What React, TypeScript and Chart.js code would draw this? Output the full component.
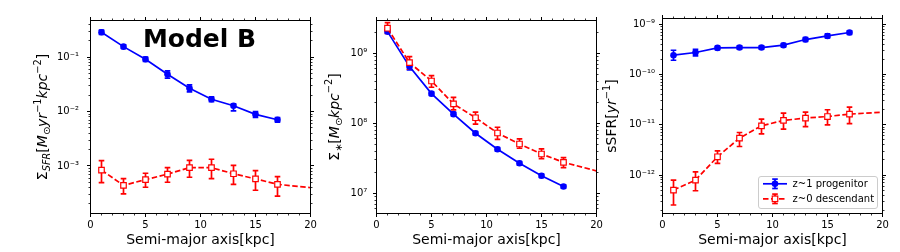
import React, { useEffect, useRef } from 'react';
import { Chart, registerables } from 'chart.js';

Chart.register(...registerables);

// ---------------- data ----------------
const radii = [1, 3, 5, 7, 9, 11, 13, 15, 17];
const tailRadius = 21; // descendant curve continues past the right edge
const xTicks = [0, 5, 10, 15, 20];

const sfrProg = [0.288, 0.157, 0.092, 0.0488, 0.027, 0.0169, 0.0128, 0.0089, 0.0071];
const sfrProgLo = [0.264, 0.145, 0.084, 0.0412, 0.0231, 0.0153, 0.01035, 0.0078, 0.0064];
const sfrProgHi = [0.317, 0.17, 0.101, 0.0561, 0.031, 0.0187, 0.0139, 0.01005, 0.0078];
const sfrDesc = [8.4e-4, 4.4e-4, 5.6e-4, 7.1e-4, 9.3e-4, 9.3e-4, 7.2e-4, 5.8e-4, 4.6e-4];
const sfrDescLo = [4.95e-4, 3.06e-4, 4.06e-4, 5.02e-4, 6.2e-4, 5.85e-4, 4.6e-4, 3.58e-4, 2.78e-4];
const sfrDescHi = [1.25e-3, 5.85e-4, 7.35e-4, 9.3e-4, 1.27e-3, 1.33e-3, 1.03e-3, 8.2e-4, 6.37e-4];
const sfrDescTail = 3.8e-4;
const sfrTicks = [1e-3, 1e-2, 1e-1];

const massProg = [2.04e9, 6.45e8, 2.65e8, 1.35e8, 7.2e7, 4.25e7, 2.68e7, 1.78e7, 1.25e7];
const massProgLo = [1.92e9, 5.8e8, 2.5e8, 1.27e8, 6.8e7, 4.0e7, 2.53e7, 1.68e7, 1.18e7];
const massProgHi = [2.16e9, 7.2e8, 2.8e8, 1.43e8, 7.6e7, 4.5e7, 2.84e7, 1.88e7, 1.32e7];
const massDesc = [2.28e9, 7.35e8, 4.02e8, 1.89e8, 1.2e8, 7.26e7, 5.06e7, 3.64e7, 2.77e7];
const massDescLo = [1.93e9, 5.91e8, 3.27e8, 1.55e8, 9.7e7, 5.9e7, 4.4e7, 3.12e7, 2.32e7];
const massDescHi = [2.74e9, 8.94e8, 4.79e8, 2.35e8, 1.44e8, 8.77e7, 5.97e7, 4.3e7, 3.23e7];
const massDescTail = 1.9e7;
const massTicks = [1e7, 1e8, 1e9];

const ssfrProg = [2.42e-10, 2.74e-10, 3.38e-10, 3.44e-10, 3.44e-10, 3.83e-10, 4.96e-10, 5.85e-10, 6.84e-10];
const ssfrProgLo = [1.92e-10, 2.35e-10, 3.12e-10, 3.18e-10, 3.2e-10, 3.55e-10, 4.55e-10, 5.35e-10, 6.3e-10];
const ssfrProgHi = [3.04e-10, 3.15e-10, 3.65e-10, 3.7e-10, 3.7e-10, 4.13e-10, 5.4e-10, 6.4e-10, 7.4e-10];
const ssfrDesc = [5.03e-13, 7.96e-13, 2.31e-12, 5.44e-12, 9.55e-12, 1.22e-11, 1.36e-11, 1.46e-11, 1.63e-11];
const ssfrDescLo = [2.54e-13, 4.88e-13, 1.71e-12, 3.7e-12, 6.6e-12, 8.2e-12, 9.2e-12, 1.0e-11, 1.05e-11];
const ssfrDescHi = [7.96e-13, 1.16e-12, 3.04e-12, 7.03e-12, 1.3e-11, 1.71e-11, 1.79e-11, 1.99e-11, 2.25e-11];
const ssfrDescTail = 1.84e-11;
const ssfrTicks = [1e-12, 1e-11, 1e-10, 1e-9];

const legendLabels = ['z~1 progenitor', 'z~0 descendant'];
const xTitle = 'Semi-major axis[kpc]';
const panelTitle = 'Model B';

type Seg = { t: string; it?: boolean; s?: 'sub' | 'sup' };
const sfrLabel: Seg[] = [
  { t: 'Σ' }, { t: 'SFR', it: true, s: 'sub' }, { t: '[' }, { t: 'M', it: true }, { t: '⊙', s: 'sub' },
  { t: 'yr', it: true }, { t: '−1', s: 'sup' }, { t: 'kpc', it: true }, { t: '−2', s: 'sup' }, { t: ']' },
];
const massLabel: Seg[] = [
  { t: 'Σ' }, { t: '∗', s: 'sub' }, { t: '[' }, { t: 'M', it: true }, { t: '⊙', s: 'sub' },
  { t: 'kpc', it: true }, { t: '−2', s: 'sup' }, { t: ']' },
];
const ssfrLabel: Seg[] = [{ t: 'sSFR' }, { t: '[' }, { t: 'yr', it: true }, { t: '−1', s: 'sup' }, { t: ']' }];

// ---------------- styling / layout ----------------
const W = 900;
const H = 252;
const FAMILY = '"DejaVu Sans", sans-serif';
const BLUE = '#0000ff';
const RED = '#ff0000';

type Area = { left: number; right: number; top: number; bottom: number };
type Panel = {
  area: Area;
  yMin: number;
  yMax: number;
  yTicks: number[];
  yPad: number;
  yLabel: Seg[];
  yLabelX: number;
  prog: number[];
  progLo: number[];
  progHi: number[];
  desc: number[];
  descLo: number[];
  descHi: number[];
  descTail: number;
  title?: boolean;
  legend?: boolean;
};

const panels: Panel[] = [
  {
    area: { left: 90.5, right: 310.5, top: 20.5, bottom: 213.5 },
    yMin: 1.336e-4, yMax: 0.475, yTicks: sfrTicks, yPad: 11.5, yLabel: sfrLabel, yLabelX: 46.8,
    prog: sfrProg, progLo: sfrProgLo, progHi: sfrProgHi,
    desc: sfrDesc, descLo: sfrDescLo, descHi: sfrDescHi, descTail: sfrDescTail, title: true,
  },
  {
    area: { left: 376.5, right: 596.5, top: 20.5, bottom: 213.5 },
    yMin: 5.14e6, yMax: 2.94e9, yTicks: massTicks, yPad: 9.2, yLabel: massLabel, yLabelX: 338.5,
    prog: massProg, progLo: massProgLo, progHi: massProgHi,
    desc: massDesc, descLo: massDescLo, descHi: massDescHi, descTail: massDescTail,
  },
  {
    area: { left: 662.5, right: 882.5, top: 18.5, bottom: 213.5 },
    yMin: 1.72e-13, yMax: 1.3e-9, yTicks: ssfrTicks, yPad: 7.5, yLabel: ssfrLabel, yLabelX: 615.8,
    prog: ssfrProg, progLo: ssfrProgLo, progHi: ssfrProgHi,
    desc: ssfrDesc, descLo: ssfrDescLo, descHi: ssfrDescHi, descTail: ssfrDescTail, legend: true,
  },
];

const SUP: Record<string, string> = {
  '-': '⁻', '0': '⁰', '1': '¹', '2': '²', '3': '³', '4': '⁴', '5': '⁵', '6': '⁶', '7': '⁷', '8': '⁸', '9': '⁹',
};
function powLabel(v: number): string {
  const e = Math.round(Math.log10(v));
  if (Math.abs(Math.log10(v) - e) > 1e-6) return '';
  return '10' + String(e).split('').map((c) => SUP[c] || c).join('');
}

function segFont(seg: Seg, size: number) {
  const sz = seg.s ? size * 0.7 : size;
  return `${seg.it ? 'italic ' : ''}${sz}px ${FAMILY}`;
}

function drawRichVertical(ctx: CanvasRenderingContext2D, segs: Seg[], baseX: number, centerY: number, size: number) {
  ctx.save();
  const widths = segs.map((sg) => {
    ctx.font = segFont(sg, size);
    return ctx.measureText(sg.t).width;
  });
  const total = widths.reduce((a, b) => a + b, 0);
  ctx.translate(baseX, centerY);
  ctx.rotate(-Math.PI / 2);
  ctx.fillStyle = '#000';
  ctx.textAlign = 'left';
  ctx.textBaseline = 'alphabetic';
  let x = -total / 2;
  segs.forEach((sg, i) => {
    ctx.font = segFont(sg, size);
    const dy = sg.s === 'sub' ? size * 0.22 : sg.s === 'sup' ? -size * 0.45 : 0;
    ctx.fillText(sg.t, x, dy);
    x += widths[i];
  });
  ctx.restore();
}

function seg(ctx: CanvasRenderingContext2D, x0: number, y0: number, x1: number, y1: number) {
  ctx.beginPath();
  ctx.moveTo(x0, y0);
  ctx.lineTo(x1, y1);
  ctx.stroke();
}

function crisp(v: number) {
  return Math.round(v - 0.5) + 0.5;
}

function drawErrBar(ctx: CanvasRenderingContext2D, x: number, yTop: number, yBot: number, color: string) {
  const cap = 2.8;
  ctx.strokeStyle = color;
  ctx.lineWidth = 1.7;
  ctx.setLineDash([]);
  seg(ctx, x, yTop, x, yBot);
  seg(ctx, x - cap, yTop, x + cap, yTop);
  seg(ctx, x - cap, yBot, x + cap, yBot);
}

function drawLegend(ctx: CanvasRenderingContext2D, area: Area) {
  const bx = 758.5;
  const by = 176.5;
  const bw = area.right - 5 - bx;
  const bh = area.bottom - 5 - by;
  ctx.save();
  ctx.beginPath();
  const r = 2.5;
  ctx.moveTo(bx + r, by);
  ctx.arcTo(bx + bw, by, bx + bw, by + bh, r);
  ctx.arcTo(bx + bw, by + bh, bx, by + bh, r);
  ctx.arcTo(bx, by + bh, bx, by, r);
  ctx.arcTo(bx, by, bx + bw, by, r);
  ctx.closePath();
  ctx.fillStyle = 'rgba(255,255,255,0.8)';
  ctx.fill();
  ctx.strokeStyle = '#cccccc';
  ctx.lineWidth = 1;
  ctx.stroke();

  const hx0 = 763;
  const hx1 = 787;
  const mx = 775;
  const rows = [183.8, 198.8];
  // progenitor
  let y = rows[0];
  ctx.strokeStyle = BLUE;
  ctx.lineWidth = 1.7;
  seg(ctx, hx0, y, hx1, y);
  drawErrBar(ctx, mx, y - 4.7, y + 4.7, BLUE);
  ctx.fillStyle = BLUE;
  ctx.beginPath();
  ctx.arc(mx, y, 3.3, 0, Math.PI * 2);
  ctx.fill();
  // descendant
  y = rows[1];
  ctx.strokeStyle = RED;
  ctx.lineWidth = 1.7;
  ctx.setLineDash([5.5, 2.5]);
  seg(ctx, hx0, y, hx1, y);
  ctx.setLineDash([]);
  drawErrBar(ctx, mx, y - 4.7, y + 4.7, RED);
  ctx.fillStyle = '#fff';
  ctx.strokeStyle = RED;
  ctx.lineWidth = 1.2;
  ctx.fillRect(mx - 2.75, y - 2.75, 5.5, 5.5);
  ctx.strokeRect(mx - 2.75, y - 2.75, 5.5, 5.5);

  ctx.fillStyle = '#000';
  ctx.font = `10px ${FAMILY}`;
  ctx.textAlign = 'left';
  ctx.textBaseline = 'alphabetic';
  ctx.fillText(legendLabels[0], 792.5, rows[0] + 3.5);
  ctx.fillText(legendLabels[1], 792.5, rows[1] + 3.5);
  ctx.restore();
}

function buildChart(canvas: HTMLCanvasElement, p: Panel) {
  const a = p.area;
  const progPts = radii.map((r, i) => ({ x: r, y: p.prog[i] }));
  const descPts = radii.map((r, i) => ({ x: r, y: p.desc[i] })).concat([{ x: tailRadius, y: p.descTail }]);
  const descRadius = radii.map(() => 3.9).concat([0]);

  const errPlugin = {
    id: 'errbars',
    beforeDatasetsDraw(chart: any) {
      const { ctx, scales } = chart;
      const xs = scales.x;
      const ys = scales.y;
      ctx.save();
      ctx.beginPath();
      ctx.rect(a.left, a.top, a.right - a.left, a.bottom - a.top);
      ctx.clip();
      radii.forEach((r, i) => {
        const px = xs.getPixelForValue(r);
        drawErrBar(ctx, px, ys.getPixelForValue(p.progHi[i]), ys.getPixelForValue(p.progLo[i]), BLUE);
      });
      radii.forEach((r, i) => {
        const px = xs.getPixelForValue(r);
        drawErrBar(ctx, px, ys.getPixelForValue(p.descHi[i]), ys.getPixelForValue(p.descLo[i]), RED);
      });
      ctx.restore();
    },
  };

  const framePlugin = {
    id: 'frame',
    afterDatasetsDraw(chart: any) {
      const { ctx, chartArea: ca, scales } = chart;
      const xs = scales.x;
      const ys = scales.y;
      ctx.save();
      ctx.strokeStyle = '#000';
      ctx.lineWidth = 1;
      ctx.setLineDash([]);
      ctx.strokeRect(ca.left, ca.top, ca.right - ca.left, ca.bottom - ca.top);
      for (let v = xs.min; v <= xs.max + 1e-9; v += 1) {
        const px = crisp(xs.getPixelForValue(v));
        const major = Math.abs(v % 5) < 1e-9;
        const len = major ? 3.5 : 2;
        ctx.lineWidth = major ? 1 : 0.8;
        seg(ctx, px, ca.bottom, px, ca.bottom + len);
        seg(ctx, px, ca.top, px, ca.top - len);
      }
      const e0 = Math.floor(Math.log10(ys.min));
      const e1 = Math.ceil(Math.log10(ys.max));
      for (let e = e0; e <= e1; e++) {
        for (let k = 1; k <= 9; k++) {
          const v = k * Math.pow(10, e);
          if (v < ys.min || v > ys.max) continue;
          const py = crisp(ys.getPixelForValue(v));
          const len = k === 1 ? 3.5 : 2;
          ctx.lineWidth = k === 1 ? 1 : 0.8;
          seg(ctx, ca.left, py, ca.left - len, py);
          seg(ctx, ca.right, py, ca.right + len, py);
        }
      }
      ctx.restore();
    },
    afterDraw(chart: any) {
      const { ctx, chartArea: ca } = chart;
      drawRichVertical(ctx, p.yLabel, p.yLabelX, (ca.top + ca.bottom) / 2, 14);
      if (p.title) {
        ctx.save();
        ctx.fillStyle = '#000';
        ctx.font = `bold 25px ${FAMILY}`;
        ctx.textAlign = 'center';
        ctx.textBaseline = 'alphabetic';
        ctx.fillText(panelTitle, 199.5, 46.7);
        ctx.restore();
      }
      if (p.legend) drawLegend(ctx, a);
    },
  };

  const zeroPad = (s: any) => {
    s.paddingLeft = 0;
    s.paddingRight = 0;
    s.paddingTop = 0;
    s.paddingBottom = 0;
  };

  return new Chart(canvas, {
    type: 'line',
    data: {
      datasets: [
        {
          label: legendLabels[1],
          data: descPts,
          order: 0,
          borderColor: RED,
          borderWidth: 1.7,
          borderDash: [5.5, 2.5],
          pointStyle: 'rect',
          pointRadius: descRadius,
          pointBackgroundColor: '#ffffff',
          pointBorderColor: RED,
          pointBorderWidth: 1.2,
          tension: 0,
          fill: false,
          clip: 0,
        },
        {
          label: legendLabels[0],
          data: progPts,
          order: 1,
          borderColor: BLUE,
          borderWidth: 1.7,
          pointStyle: 'circle',
          pointRadius: 3.3,
          pointBackgroundColor: BLUE,
          pointBorderColor: BLUE,
          pointBorderWidth: 0,
          tension: 0,
          fill: false,
          clip: 8,
        },
      ],
    } as any,
    options: {
      responsive: false,
      animation: false,
      devicePixelRatio: 1,
      events: [],
      layout: { padding: { left: a.left - 50, right: W - a.right, top: a.top, bottom: 0 } },
      plugins: { legend: { display: false }, tooltip: { enabled: false }, title: { display: false } },
      scales: {
        x: {
          type: 'linear',
          min: 0,
          max: 20,
          afterBuildTicks: (s: any) => {
            s.ticks = xTicks.map((v) => ({ value: v }));
          },
          afterFit: (s: any) => {
            s.height = H - a.bottom;
            zeroPad(s);
          },
          grid: { display: false, drawTicks: false },
          border: { display: false },
          ticks: {
            font: { family: FAMILY, size: 10 },
            color: '#000',
            padding: 5.5,
            maxRotation: 0,
            autoSkip: false,
            callback: (v: any) => String(v),
          },
          title: {
            display: true,
            text: xTitle,
            color: '#000',
            font: { family: FAMILY, size: 14 },
            padding: { top: 0, bottom: 3.2 },
          },
        },
        y: {
          type: 'logarithmic',
          min: p.yMin,
          max: p.yMax,
          bounds: 'data',
          afterBuildTicks: (s: any) => {
            s.ticks = p.yTicks.map((v) => ({ value: v }));
          },
          afterFit: (s: any) => {
            s.width = 50;
            zeroPad(s);
          },
          grid: { display: false, drawTicks: false },
          border: { display: false },
          ticks: {
            font: { family: FAMILY, size: 10 },
            color: '#000',
            padding: p.yPad,
            autoSkip: false,
            callback: (v: any) => powLabel(Number(v)),
          },
        },
      },
    } as any,
    plugins: [errPlugin, framePlugin],
  });
}

export default function App() {
  const refs = [useRef<HTMLCanvasElement>(null), useRef<HTMLCanvasElement>(null), useRef<HTMLCanvasElement>(null)];

  useEffect(() => {
    const charts = panels.map((p, i) => buildChart(refs[i].current as HTMLCanvasElement, p));
    return () => charts.forEach((c) => c.destroy());
  }, []);

  return (
    <div style={{ position: 'fixed', left: 0, top: 0, width: W, height: H, background: '#fff', overflow: 'hidden' }}>
      {panels.map((_, i) => (
        <canvas
          key={i}
          ref={refs[i]}
          width={W}
          height={H}
          style={{ position: 'absolute', left: 0, top: 0, width: W, height: H }}
        />
      ))}
    </div>
  );
}
